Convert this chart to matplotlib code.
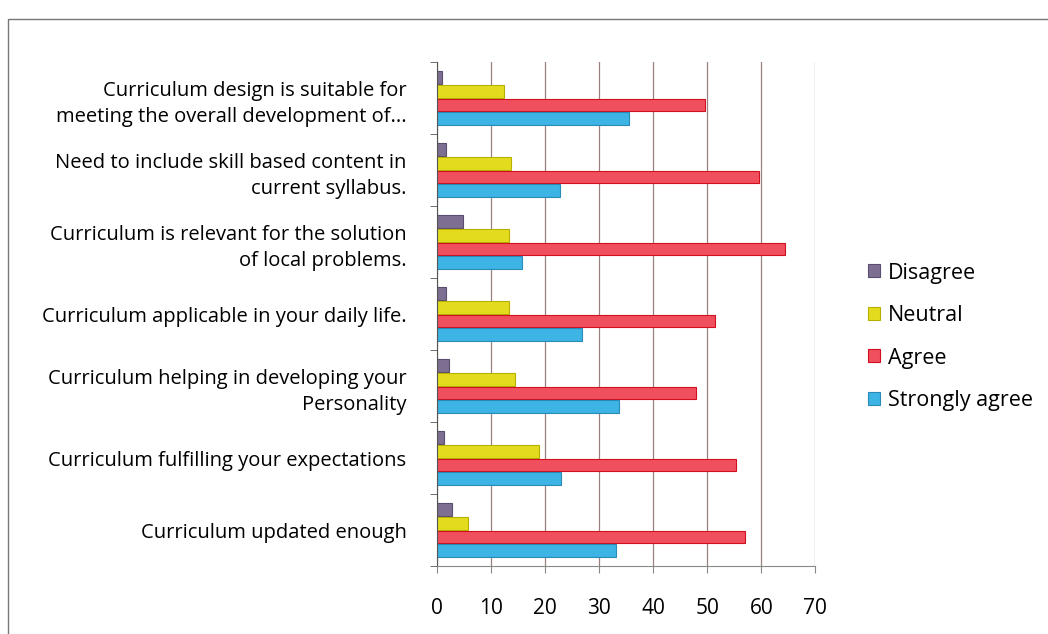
import matplotlib.pyplot as plt
import numpy as np
from matplotlib.patches import Rectangle

plt.rcParams['font.family'] = ['Open Sans', 'DejaVu Sans']

categorias = [
    "Curriculum updated enough",
    "Curriculum fulfilling your expectations",
    "Curriculum helping in developing your\nPersonality",
    "Curriculum applicable in your daily life.",
    "Curriculum is relevant for the solution\nof local problems.",
    "Need to include skill based content in\ncurrent syllabus.",
    "Curriculum design is suitable for\nmeeting the overall development of...",
]

series = ["Disagree", "Neutral", "Agree", "Strongly agree"]

disagree = [2.8, 1.3, 2.3, 1.7, 4.8, 1.7, 1.0]
neutral = [5.8, 18.8, 14.5, 13.3, 13.4, 13.7, 12.4]
agree = [56.9, 55.4, 47.9, 51.4, 64.3, 59.6, 49.5]
strongly_agree = [33.1, 23.0, 33.6, 26.9, 15.8, 22.8, 35.6]

colores = ["#7d6f92", "#e3dc1e", "#f0505e", "#3db4e4"]
bordes = ["#5a4d6e", "#b8b000", "#d0101e", "#2a8ab8"]

valores = [disagree, neutral, agree, strongly_agree]

fig = plt.figure(figsize=(10.48, 6.34), dpi=100)
ax = fig.add_axes([0.417, 0.107, 0.361, 0.795])

y = np.arange(len(categorias))
h = 0.19
desplaz = [1.5 * h, 0.5 * h, -0.5 * h, -1.5 * h]
for s, v, c, b, d in zip(series, valores, colores, bordes, desplaz):
    ax.barh(y + d, v, height=h * 0.92, color=c, edgecolor=b, linewidth=0.8, label=s)

ax.set_xlim(0, 70)
ax.set_ylim(-0.5, len(categorias) - 0.5)
ax.set_xticks(range(0, 71, 10))
ax.xaxis.grid(True, color="#9a8080", linewidth=0.9)
ax.set_axisbelow(True)
for lado in ["top", "right"]:
    ax.spines[lado].set_visible(False)
ax.spines["left"].set_color("#555555")
ax.spines["bottom"].set_color("#888888")

ax.set_yticks(y)
ax.set_yticklabels(categorias, fontsize=14.5, ha="right", linespacing=1.4)
ax.tick_params(axis="y", length=0, pad=22)
ax.set_yticks(np.arange(-0.5, len(categorias), 1), minor=True)
ax.tick_params(axis="y", which="minor", length=5, color="#555555")
ax.tick_params(axis="x", length=5, pad=18, labelsize=15, color="#888888")

ax.legend(loc="center left", bbox_to_anchor=(1.14, 0.455), frameon=False,
          prop={"size": 15.5}, handlelength=0.55,
          handleheight=0.55, handletextpad=0.35, labelspacing=1.0,
          borderaxespad=0, borderpad=0)

fig.patches.append(Rectangle((0.008, -0.02), 1.1, 0.99, transform=fig.transFigure,
                             fill=False, edgecolor="#777777", linewidth=1.0))

fig.savefig("out.png", dpi=100)
